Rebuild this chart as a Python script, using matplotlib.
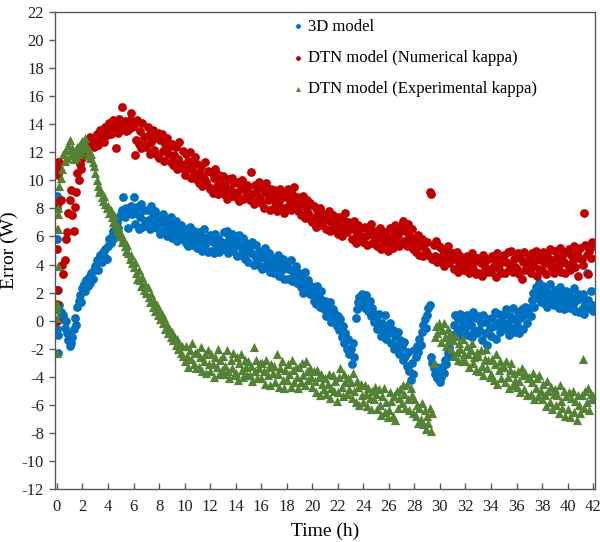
import numpy as np
import matplotlib
matplotlib.use("Agg")
import matplotlib.pyplot as plt

# sampling time (h), one reading every 0.1 h
time_h = np.round(np.arange(421) * 0.1, 1)

# extra readings taken right at start-up (t ~ 0)
t_start = [0.0, 0.0, 0.03, 0.03, 0.05, 0.05, 0.08]
blue_start = [8.5, 8.9, 8.0, 5.8, 2.2, -1.0, -2.3]
red_start = [0.0, 1.2, 2.2, 5.1, 8.4, 10.6, 11.3]
green_start = [-2.3, 0.2, 0.8, 1.2, 3.9, 6.5, 7.6]

# 3D model error (W), one row per hour
err_3d = [
    -0.6, 0.8, 1.1, 0.6, 0.1, 0.4, -0.5, 0.0, -0.9, -1.4,
    -1.8, -1.6, -1.2, -0.6, 0.2, -0.3, 1.0, 1.4, 1.8, 1.3,
    2.3, 2.6, 2.1, 2.9, 2.5, 3.1, 2.7, 3.4, 3.0, 3.6,
    3.9, 4.3, 3.6, 4.4, 4.7, 4.2, 4.9, 4.6, 5.1, 4.4,
    5.3, 5.8, 5.5, 6.0, 6.4, 5.9, 6.6, 7.0, 6.6, 7.4,
    7.6, 7.9, 8.8, 7.4, 8.0, 7.7, 6.6, 7.9, 8.2, 7.6,
    8.8, 6.9, 7.7, 8.1, 6.5, 7.4, 8.3, 6.7, 7.9, 7.1,
    6.8, 7.9, 7.2, 6.5, 8.2, 7.5, 6.9, 7.8, 6.6, 7.4,
    7.3, 6.2, 7.0, 7.6, 6.4, 6.9, 6.0, 7.2, 6.6, 7.4,
    5.9, 6.9, 6.3, 7.1, 5.7, 6.6, 6.1, 6.8, 5.8, 6.4,
    6.5, 5.5, 6.2, 5.3, 6.7, 5.9, 5.4, 6.4, 5.7, 6.1,
    5.2, 6.3, 5.6, 6.0, 5.0, 6.5, 5.4, 5.9, 4.9, 5.8,
    6.1, 5.0, 5.6, 4.8, 6.2, 5.3, 5.9, 4.9, 5.7, 5.2,
    5.1, 6.3, 5.5, 6.4, 4.8, 5.9, 5.3, 6.2, 5.0, 5.7,
    5.8, 4.6, 5.4, 6.1, 4.7, 5.1, 5.9, 4.4, 5.5, 5.0,
    4.2, 5.3, 4.8, 5.6, 4.0, 4.6, 5.4, 4.3, 5.0, 3.9,
    4.9, 3.7, 4.5, 5.2, 3.9, 4.2, 4.8, 3.5, 4.4, 4.0,
    3.4, 4.5, 3.8, 4.7, 3.2, 4.1, 3.6, 4.4, 3.0, 3.9,
    4.1, 3.0, 3.7, 4.3, 2.8, 3.5, 3.2, 3.9, 2.7, 3.4,
    3.4, 2.4, 3.0, 2.0, 3.5, 2.6, 2.2, 2.9, 1.9, 2.5,
    2.4, 1.4, 2.0, 1.2, 2.5, 1.7, 1.0, 2.1, 1.5, 0.8,
    1.4, 0.3, 1.0, 0.6, 1.3, -0.1, 0.8, 0.2, 0.5, -0.4,
    0.3, -0.7, 0.1, -1.2, -0.4, -1.6, -0.9, -2.0, -1.3, -2.4,
    -2.0, -3.1, -1.6, -2.6, 0.2, 0.8, 1.3, 1.7, 1.2, 1.9,
    1.5, 0.9, 1.8, 1.2, 0.7, 1.4, 0.3, 0.9, -0.1, 0.5,
    0.1, -0.6, 0.5, -0.3, -1.1, -0.2, -0.8, 0.4, -1.3, -0.5,
    -0.9, -0.2, -1.6, -0.7, -2.0, -1.1, -1.7, -0.8, -2.4, -1.4,
    -1.9, -2.8, -1.5, -2.5, -3.2, -2.2, -3.6, -4.2, -3.0, -3.8,
    -2.1, -2.6, -1.8, -2.2, -1.3, -1.7, -0.8, -0.3, 0.1, -0.5,
    0.4, 0.9, 1.1, -2.6, -3.0, -3.4, -3.8, -3.3, -4.1, -3.6,
    -4.4, -4.0, -3.3, -3.7, -2.8, -3.1, -2.3, -1.9, -2.5, -1.4,
    -1.0, -0.3, 0.4, -0.8, 0.1, -0.6, 0.5, -1.1, -0.2, 0.3,
    -0.5, 0.4, -1.0, 0.1, -0.3, -1.2, 0.6, -0.7, 0.2, -0.9,
    0.3, -0.7, -0.2, -1.4, 0.4, -0.9, -0.1, -1.7, 0.1, -0.5,
    -1.1, 0.2, -0.4, 0.6, -1.3, -0.2, 0.5, -0.8, 0.0, -0.6,
    0.4, -0.6, 0.8, -0.2, -1.0, 0.3, -0.5, 0.9, -0.8, 0.1,
    -0.3, 0.6, -0.9, 0.2, 0.8, -0.6, 0.4, 1.0, -0.2, 0.7,
    0.9, 0.3, 1.5, 2.0, 1.0, 2.4, 1.6, 2.2, 2.7, 1.3,
    1.8, 2.5, 1.2, 2.2, 1.0, 1.6, 2.6, 1.4, 2.0, 1.1,
    2.2, 1.1, 1.7, 0.9, 2.4, 1.3, 1.9, 0.8, 1.5, 2.1,
    1.3, 2.0, 0.9, 1.7, 1.1, 2.3, 0.7, 1.5, 1.9, 0.6,
    1.6, 0.8, 1.9, 0.5, 1.2, 3.4, 1.5, 0.9, 2.1, 1.1,
    0.7,
]

# DTN model with numerical kappa, error (W)
err_dtn_num = [
    11.0, 10.4, 11.3, 8.6, 4.0, 3.3, 4.3, 5.8, 6.3, 7.7,
    8.6, 9.3, 7.5, 6.4, 8.1, 9.2, 10.5, 10.0, 11.2, 10.8,
    11.6, 12.0, 12.3, 11.8, 12.9, 12.5, 13.1, 12.6, 13.0, 12.4,
    12.8, 13.3, 12.5, 13.0, 13.6, 12.9, 13.4, 12.7, 13.8, 13.2,
    13.5, 14.1, 13.3, 13.8, 14.3, 13.6, 12.3, 14.0, 13.4, 14.4,
    13.9, 15.2, 13.7, 14.2, 13.5, 14.0, 13.6, 14.3, 14.8, 13.8,
    13.9, 11.8, 12.9, 14.3, 12.6, 13.5, 12.3, 14.1, 13.1, 12.5,
    12.4, 13.8, 13.2, 11.9, 12.7, 13.6, 12.2, 13.0, 11.8, 13.4,
    11.6, 12.9, 13.3, 12.1, 11.4, 12.6, 13.0, 11.9, 12.4, 11.3,
    12.6, 11.1, 11.8, 12.4, 10.8, 11.5, 12.7, 11.2, 10.9, 12.1,
    10.4, 11.9, 10.8, 11.4, 12.0, 10.2, 11.1, 10.6, 11.7, 10.1,
    11.2, 9.8, 10.5, 11.0, 9.6, 10.2, 11.3, 9.9, 10.7, 9.5,
    9.4, 10.6, 9.1, 10.2, 10.8, 9.6, 9.0, 10.4, 9.8, 9.2,
    10.3, 9.0, 9.7, 8.7, 10.1, 9.4, 8.9, 10.2, 9.2, 9.8,
    8.8, 9.9, 9.2, 8.5, 9.6, 10.0, 8.7, 9.4, 8.9, 9.7,
    9.5, 8.6, 10.6, 9.0, 8.3, 9.7, 9.2, 8.5, 9.9, 8.8,
    8.4, 9.5, 8.0, 9.2, 9.8, 8.6, 9.0, 7.9, 9.4, 8.7,
    9.3, 8.2, 7.8, 9.0, 8.5, 9.4, 8.0, 8.8, 7.7, 9.2,
    8.1, 9.4, 8.7, 7.9, 9.0, 8.4, 9.5, 8.2, 8.8, 7.8,
    8.7, 7.5, 8.3, 8.9, 7.3, 8.0, 8.6, 7.7, 8.4, 7.2,
    7.0, 8.2, 7.4, 6.7, 7.9, 7.2, 8.0, 6.8, 7.6, 7.1,
    7.6, 6.5, 7.3, 7.8, 6.4, 7.0, 7.5, 6.6, 7.2, 6.3,
    6.2, 7.4, 6.8, 6.0, 7.2, 6.5, 7.7, 6.3, 7.0, 6.6,
    6.9, 5.8, 6.5, 7.1, 5.5, 6.2, 6.8, 5.9, 6.6, 6.0,
    5.6, 6.7, 6.0, 5.4, 6.5, 6.2, 6.9, 5.5, 6.3, 5.8,
    6.4, 5.3, 6.0, 6.6, 5.1, 5.8, 6.3, 5.5, 6.1, 5.0,
    5.5, 6.6, 5.9, 5.2, 6.4, 6.8, 5.6, 6.1, 5.3, 6.5,
    6.8, 7.1, 5.7, 6.4, 5.3, 6.9, 6.0, 5.6, 6.5, 5.1,
    5.9, 4.9, 5.6, 6.1, 4.7, 5.3, 5.8, 4.6, 5.5, 5.0,
    5.6, 4.7, 9.2, 9.0, 4.4, 5.4, 4.6, 5.7, 4.2, 5.3,
    4.3, 5.2, 4.6, 3.9, 5.0, 4.4, 5.3, 4.1, 4.8, 4.5,
    4.8, 3.7, 4.4, 4.9, 3.5, 4.1, 4.6, 3.8, 4.3, 3.6,
    3.6, 4.6, 4.0, 3.4, 4.4, 4.8, 3.7, 4.2, 3.3, 4.5,
    4.5, 3.4, 4.1, 3.2, 4.7, 3.8, 4.3, 3.5, 4.4, 3.7,
    3.5, 4.6, 3.9, 4.3, 3.1, 4.8, 3.7, 4.1, 3.4, 4.4,
    4.7, 3.4, 4.2, 4.9, 3.6, 4.0, 5.0, 3.5, 4.4, 3.8,
    3.7, 4.8, 3.3, 4.5, 3.0, 4.2, 4.9, 3.6, 4.1, 3.9,
    4.5, 3.4, 4.8, 3.9, 4.2, 5.0, 3.2, 4.6, 3.7, 4.3,
    3.6, 4.9, 4.1, 3.3, 4.7, 4.4, 5.1, 3.8, 4.3, 3.4,
    5.0, 3.8, 4.5, 4.0, 5.2, 3.5, 4.6, 4.2, 3.4, 4.9,
    4.0, 5.1, 3.6, 4.7, 4.3, 5.3, 3.8, 4.8, 3.2, 4.5,
    5.2, 4.4, 4.0, 7.7, 5.4, 4.7, 3.3, 5.0, 4.5, 5.6,
    5.3,
]

# DTN model with experimental kappa, error (W)
err_dtn_exp = [
    6.5, 8.0, 9.6, 10.2, 10.8, 11.9, 11.4, 12.2, 11.6, 12.5,
    12.9, 11.8, 12.3, 11.5, 12.1, 11.7, 12.4, 11.9, 12.6, 12.0,
    12.8, 12.3, 13.0, 12.5, 11.8, 12.2, 11.6, 11.9, 11.3, 11.0,
    10.5, 10.0, 9.6, 9.2, 9.4, 8.8, 8.5, 8.9, 8.3, 8.0,
    8.2, 7.7, 7.9, 7.4, 7.0, 7.5, 6.8, 6.4, 6.7, 6.0,
    6.2, 5.6, 5.9, 5.3, 5.0, 5.4, 4.8, 4.4, 4.7, 4.1,
    3.8, 4.2, 3.4, 3.0, 3.6, 2.9, 2.5, 3.1, 2.2, 2.6,
    2.0, 2.4, 1.7, 1.3, 1.9, 1.0, 1.4, 0.7, 1.1, 0.4,
    0.8, 0.1, 0.5, -0.2, 0.2, -0.6, -0.3, -0.9, -0.5, -1.2,
    -0.8, -1.4, -1.1, -1.7, -1.3, -2.0, -1.6, -2.3, -1.8, -2.5,
    -2.9, -1.8, -2.5, -3.3, -2.1, -2.7, -1.6, -3.1, -2.3, -3.4,
    -2.2, -3.3, -2.6, -1.9, -3.6, -2.9, -2.4, -3.7, -2.1, -3.1,
    -3.6, -2.4, -3.1, -4.0, -2.6, -3.3, -2.0, -3.8, -2.8, -3.5,
    -2.5, -3.8, -3.2, -2.1, -3.6, -4.1, -2.8, -3.4, -2.3, -3.9,
    -3.7, -2.6, -4.2, -3.0, -2.4, -3.5, -4.0, -2.8, -3.3, -3.9,
    -2.9, -3.9, -3.2, -4.3, -1.9, -3.6, -2.8, -4.1, -3.4, -3.0,
    -4.1, -3.0, -3.6, -4.5, -2.8, -3.9, -3.3, -4.6, -3.1, -3.7,
    -3.2, -4.4, -2.4, -3.8, -4.7, -3.4, -2.9, -4.2, -4.8, -3.5,
    -4.2, -3.1, -3.8, -4.7, -2.8, -3.5, -4.4, -3.3, -4.0, -4.8,
    -3.3, -4.4, -3.0, -3.9, -4.6, -2.9, -3.6, -4.2, -3.4, -4.0,
    -4.7, -3.6, -4.3, -5.1, -3.5, -4.0, -5.3, -3.8, -4.5, -4.9,
    -4.1, -5.2, -4.5, -3.8, -5.5, -4.8, -3.9, -5.0, -4.3, -5.7,
    -5.1, -4.0, -3.4, -4.7, -5.4, -3.8, -4.4, -5.2, -4.1, -4.9,
    -4.4, -5.5, -3.7, -5.0, -5.8, -4.3, -4.7, -6.0, -4.5, -5.3,
    -5.8, -4.6, -5.2, -6.1, -4.8, -5.5, -6.3, -5.0, -5.6, -4.7,
    -5.2, -6.3, -4.9, -6.0, -6.7, -5.4, -4.8, -6.5, -5.8, -6.9,
    -6.4, -5.1, -5.7, -6.8, -5.4, -7.1, -5.0, -6.2, -5.5, -4.9,
    -5.9, -4.6, -5.2, -6.2, -4.5, -5.6, -6.4, -4.8, -5.3, -6.6,
    -5.6, -6.8, -6.0, -7.3, -6.2, -7.0, -5.9, -7.4, -6.4, -7.7,
    -6.8, -7.3, -6.2, -7.9, -6.6, -3.0, -1.2, -0.4, -0.9, -0.2,
    -0.4, -1.5, -0.7, -0.2, -1.2, -1.8, -0.6, -1.4, -0.9, -2.0,
    -1.4, -2.5, -1.1, -2.2, -2.8, -1.6, -2.0, -2.9, -1.3, -2.4,
    -2.9, -1.8, -2.4, -3.3, -2.1, -1.6, -3.0, -2.6, -3.5, -2.2,
    -2.5, -3.6, -2.1, -3.2, -3.9, -2.7, -2.0, -3.4, -2.8, -4.0,
    -3.8, -2.7, -4.2, -3.1, -2.4, -4.5, -3.5, -2.9, -4.1, -3.3,
    -3.3, -4.4, -2.9, -4.0, -4.8, -3.5, -3.0, -4.6, -3.7, -4.2,
    -4.7, -3.6, -4.3, -5.1, -3.4, -3.9, -4.9, -3.7, -5.3, -4.1,
    -4.0, -5.2, -4.4, -3.7, -5.6, -4.8, -4.1, -5.4, -3.9, -5.0,
    -5.6, -4.5, -5.3, -6.1, -4.3, -5.0, -5.8, -4.7, -6.3, -5.2,
    -4.9, -6.0, -5.3, -6.6, -4.6, -5.7, -6.2, -5.0, -6.8, -5.4,
    -6.3, -5.1, -6.9, -5.5, -5.0, -6.5, -5.7, -7.1, -5.3, -6.0,
    -6.6, -5.3, -2.7, -6.2, -5.0, -5.8, -4.8, -6.4, -5.2, -5.6,
    -5.4,
]

labels = ["3D model", "DTN model (Numerical kappa)", "DTN model (Experimental kappa)"]
colors = ["#0070C0", "#C00000", "#548235"]

plt.rcParams["font.family"] = ["Liberation Serif", "DejaVu Serif"]
plt.rcParams["axes.unicode_minus"] = False

fig = plt.figure(figsize=(6.0, 5.42), dpi=100)
ax = fig.add_axes([0.0917, 0.0978, 0.9, 0.88])

t_all = np.concatenate([t_start, time_h])
ax.scatter(t_all, np.concatenate([blue_start, err_3d]), s=40, marker="o",
           color=colors[0], linewidths=0, label=labels[0])
ax.scatter(t_all, np.concatenate([red_start, err_dtn_num]), s=40, marker="o",
           color=colors[1], linewidths=0, label=labels[1])
ax.scatter(t_all, np.concatenate([green_start, err_dtn_exp]), s=44, marker="^",
           color=colors[2], linewidths=0, label=labels[2])

ax.set_xlim(-0.15, 42.15)
ax.set_ylim(-12, 22)
ax.set_xticks(np.arange(0, 43, 2))
ax.set_yticks(np.arange(-12, 23, 2))
ax.tick_params(axis="both", labelsize=12, colors="#222222", width=1,
               color="#595959")
ax.tick_params(axis="x", direction="in", length=4, pad=7)
ax.tick_params(axis="y", direction="out", length=4, pad=4)
for sp in ax.spines.values():
    sp.set_color("#595959")
    sp.set_linewidth(1.0)

ax.set_xlabel("Time (h)", fontsize=14, labelpad=6)
ax.set_ylabel("Error (W)", fontsize=14)
ax.yaxis.set_label_coords(-0.068, 0.5)

leg = ax.legend(loc="upper left", bbox_to_anchor=(0.44, 0.986), frameon=False,
                fontsize=12, markerscale=0.55, handlelength=0.6,
                handletextpad=0.3, labelspacing=0.92, borderpad=0,
                borderaxespad=0)

fig.savefig("out.png", dpi=100)
